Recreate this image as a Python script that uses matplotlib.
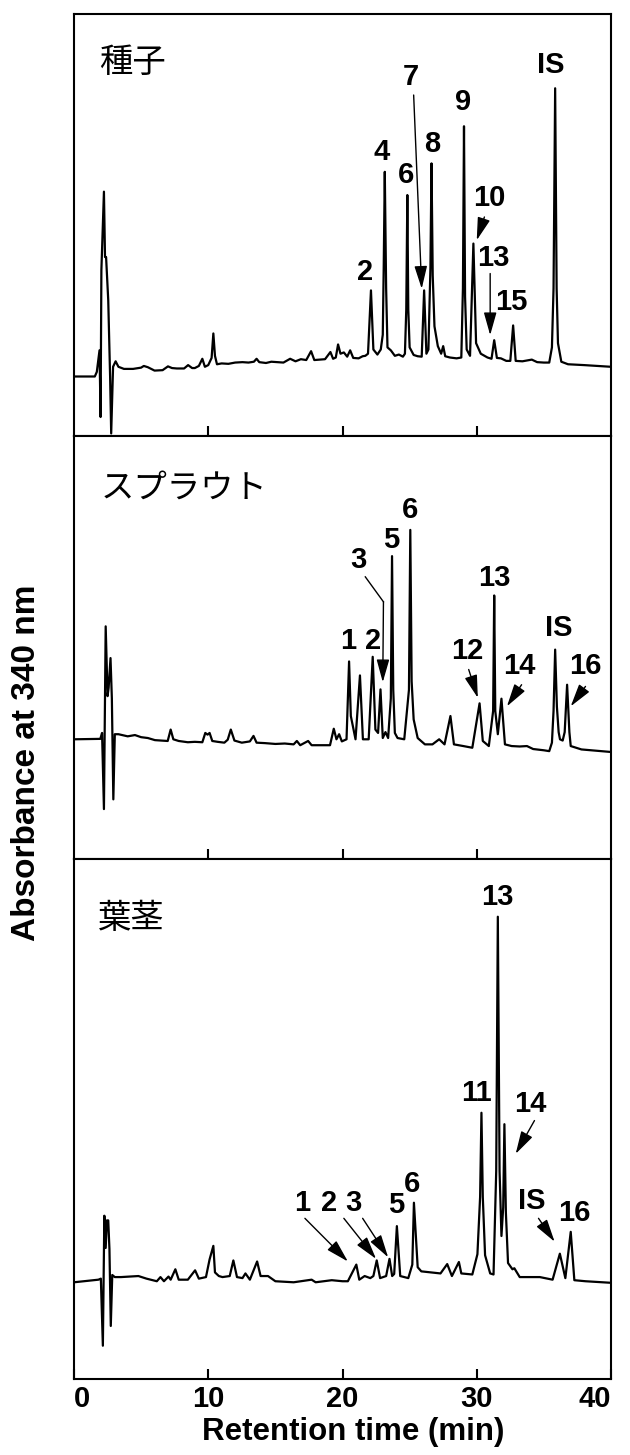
import matplotlib
matplotlib.use("Agg")
from matplotlib import pyplot as plt

# retention time (min) / absorbance (a.u., % of panel height)
seed_t = [0, 1.55, 1.70, 1.90, 1.98, 2.04, 2.23, 2.31, 2.39, 2.55, 2.69, 2.77, 2.91, 3.10, 3.31, 3.72,
          4.4, 5.0, 5.2, 5.5, 6.0, 6.6, 7.0, 7.3, 7.66, 8.2, 8.5, 8.8, 9.0, 9.3, 9.56, 9.75, 10.0, 10.25,
          10.38, 10.5, 10.65, 11.0, 11.5, 12.0, 12.55, 13.0, 13.4, 13.6, 13.8, 14.3, 14.7, 15.2, 15.6,
          16.1, 16.5, 16.9, 17.3, 17.66, 17.9, 18.3, 18.7, 19.1, 19.3, 19.5, 19.67, 19.85, 20.1, 20.35,
          20.57, 20.8, 21.2, 21.5, 21.7, 21.9, 22.12, 22.3, 22.6, 22.85, 23.0, 23.07, 23.15, 23.25, 23.35, 23.6, 23.9,
          24.2, 24.5, 24.65, 24.75, 24.83, 24.9, 25.0, 25.3, 25.6, 25.9, 26.08, 26.25, 26.4, 26.55, 26.63, 26.72, 26.85, 27.1, 27.35,
          27.5, 27.65, 28.0, 28.5, 28.85, 28.97, 29.05, 29.13, 29.25, 29.5, 29.75, 29.95, 30.3, 30.8, 31.1, 31.3, 31.5,
          31.8, 32.2, 32.5, 32.71, 32.9, 33.4, 34.1, 34.5, 35.0, 35.4, 35.6, 35.72, 35.84, 35.95, 36.05, 36.3, 36.8,
          38.0, 40.0]
seed_a = [14.1, 14.1, 15.2, 20.3, 4.5, 39.3, 57.9, 42.4, 42.4, 32.2, 14.0, 0.6, 16.4, 17.7, 16.4, 15.9,
          15.9, 16.2, 16.6, 16.3, 15.5, 15.6, 16.5, 16.1, 16.0, 16.0, 16.8, 16.1, 16.1, 16.6, 18.3, 16.4, 16.8, 18.5,
          24.3, 19.0, 17.0, 17.2, 17.1, 17.4, 17.5, 17.4, 17.6, 18.3, 17.5, 17.3, 17.6, 17.5, 17.4,
          18.3, 17.7, 18.2, 18.0, 20.1, 18.0, 18.1, 18.2, 19.9, 18.3, 18.6, 21.7, 19.5, 19.8, 18.8,
          20.3, 18.5, 18.4, 18.9, 19.0, 19.5, 34.5, 20.5, 19.3, 20.5, 24.0, 40.0, 62.6, 35.0, 21.0, 20.3, 19.0,
          19.3, 18.8, 19.5, 30.0, 57.1, 30.0, 21.0, 19.2, 18.9, 18.8, 34.5, 19.5, 20.5, 40.0, 64.6, 38.0, 26.0, 21.3, 19.5,
          21.3, 18.9, 18.6, 18.4, 18.6, 35.0, 73.4, 33.0, 20.5, 19.0, 45.6, 22.0, 19.5, 18.6, 18.3, 22.7, 18.5,
          18.4, 17.8, 17.8, 26.2, 17.8, 17.7, 18.1, 17.5, 17.4, 17.4, 21.0, 35.0, 82.4, 35.0, 22.0, 17.6, 17.0,
          16.8, 16.4]

sprout_t = [0, 1.96, 2.09, 2.23, 2.36, 2.50, 2.58, 2.72, 2.82, 2.93, 3.04, 3.31, 4.0, 4.54, 5.0, 5.5,
            6.03, 6.5, 6.98, 7.2, 7.4, 7.8, 8.48, 9.0, 9.56, 9.78, 9.95, 10.1, 10.3, 10.7, 11.2, 11.45,
            11.68, 11.95, 12.5, 13.1, 13.37, 13.6, 14.2, 15.0, 15.7, 16.36, 16.6, 16.85, 17.44, 17.7, 18.5,
            19.07, 19.35, 19.55, 19.75, 19.95, 20.3, 20.49, 20.62, 20.97, 21.3, 21.52, 21.95, 22.25, 22.45,
            22.65, 22.83, 23.0, 23.2, 23.4, 23.6, 23.69, 23.78, 23.9, 24.1, 24.6, 24.95, 25.05, 25.15, 25.3, 25.6, 26.14, 26.7, 27.2,
            27.6, 28.04, 28.3, 29.0, 29.67, 30.21, 30.45, 30.9, 31.22, 31.3, 31.38, 31.57, 31.84, 32.1, 32.6, 33.2, 33.74,
            34.2, 35.0, 35.4, 35.6, 35.72, 35.84, 35.97, 36.1, 36.2, 36.4, 36.55, 36.73, 36.9, 37.0, 37.8, 40.0]
sprout_a = [28.3, 28.4, 29.8, 11.8, 55.0, 38.5, 40.5, 47.5, 38.0, 14.1, 29.5, 29.5, 29.0, 29.3, 28.8, 28.6,
            28.1, 28.0, 27.9, 30.6, 28.3, 27.9, 27.6, 27.7, 27.6, 29.8, 29.4, 29.8, 27.9, 27.7, 27.5, 28.2,
            30.6, 28.0, 27.5, 27.8, 29.1, 27.5, 27.4, 27.2, 27.3, 27.1, 27.9, 26.9, 27.9, 26.9, 26.9,
            26.9, 30.8, 28.3, 29.5, 27.8, 28.3, 46.7, 33.8, 28.3, 43.4, 28.3, 28.3, 47.8, 30.6,
            29.8, 40.1, 28.6, 30.0, 28.6, 38.0, 71.6, 40.0, 29.8, 28.6, 28.3, 40.0, 77.8, 42.0, 33.0, 28.6, 27.1, 27.1, 28.3,
            27.1, 33.8, 27.1, 26.7, 26.3, 36.8, 27.9, 26.7, 35.0, 62.3, 35.0, 29.5, 37.9, 27.1, 26.7, 26.6, 26.7,
            26.0, 25.7, 25.5, 27.5, 35.0, 49.5, 36.0, 30.0, 28.3, 28.0, 30.0, 41.2, 30.0, 26.7, 25.9, 25.3]

leaf_t = [0, 1.82, 2.0, 2.15, 2.26, 2.36, 2.45, 2.55, 2.64, 2.74, 2.85, 3.04, 3.5, 4.8, 5.4, 6.17, 6.44,
          6.7, 7.04, 7.2, 7.55, 7.8, 8.48, 9.02, 9.3, 9.83, 10.1, 10.38, 10.5, 10.79, 11.06, 11.6, 11.87,
          12.14, 12.55, 12.77, 13.1, 13.64, 13.9, 14.45, 15.0, 16.36, 17.7, 18.0, 19.2, 20.0, 20.4, 21.03,
          21.25, 21.65, 22.07, 22.3, 22.55, 22.8, 23.25, 23.5, 23.7, 23.85, 24.05, 24.3, 24.9, 25.2, 25.32, 25.6,
          25.87, 27.3, 27.8, 28.15, 28.67, 28.85, 29.67, 30.05, 30.25, 30.35, 30.45, 30.62, 31.0, 31.25,
          31.45, 31.57, 31.7, 31.84, 31.97, 32.06, 32.17, 32.33, 32.66, 32.8, 33.2, 34.0, 34.7, 35.65,
          36.19, 36.6, 37.0, 37.27, 38.1, 40.0]
leaf_a = [18.6, 19.1, 19.3, 6.4, 31.4, 25.2, 30.5, 30.5, 25.0, 10.2, 20.0, 19.6, 19.6, 19.8, 19.3, 18.8, 19.6,
          18.8, 19.7, 19.1, 21.1, 19.1, 19.1, 20.9, 19.3, 19.6, 23.0, 25.6, 20.5, 19.8, 19.6, 19.8, 22.8,
          19.6, 19.4, 20.3, 19.1, 22.6, 19.8, 19.8, 18.8, 18.6, 19.1, 18.6, 19.0, 18.8, 18.8, 22.0,
          19.1, 19.8, 19.4, 19.8, 22.8, 19.4, 19.8, 23.1, 19.8, 20.2, 29.4, 19.8, 19.4, 22.0, 33.9, 21.5,
          20.7, 20.3, 22.1, 19.8, 22.5, 20.3, 20.1, 24.0, 35.0, 51.2, 35.0, 23.8, 20.3, 20.1,
          40.0, 88.9, 40.0, 27.5, 33.0, 49.0, 32.0, 22.3, 21.1, 21.3, 19.6, 19.6, 19.6, 19.1,
          24.1, 19.4, 28.3, 19.0, 18.8, 18.5]

panel_names = ["種子", "スプラウト", "葉茎"]
name_pos = [(1.9, 88.5), (2.0, 87.6), (1.8, 88.5)]

# peak labels: (text, time, height)
seed_labels = [("2", 21.7, 38.9), ("4", 22.9, 67.3), ("6", 24.7, 61.8), ("7", 25.1, 85.1),
               ("8", 26.7, 69.1), ("9", 29.0, 79.2), ("10", 30.9, 56.3), ("13", 31.2, 42.1),
               ("15", 32.6, 31.8), ("IS", 35.5, 87.9)]
sprout_labels = [("1", 20.4, 51.5), ("2", 22.3, 51.5), ("3", 21.2, 70.7), ("5", 23.6, 75.4),
                 ("6", 25.0, 82.5), ("12", 29.3, 49.1), ("13", 31.3, 66.4), ("14", 33.2, 45.6),
                 ("IS", 36.1, 54.6), ("16", 38.1, 45.6)]
leaf_labels = [("1", 17.0, 33.9), ("2", 19.0, 33.9), ("3", 20.8, 33.9), ("5", 24.0, 33.5),
               ("6", 25.2, 37.5), ("11", 30.0, 55.0), ("13", 31.5, 92.7), ("14", 34.0, 52.8),
               ("IS", 34.1, 34.3), ("16", 37.3, 32.0)]

# arrows: (start t, start a, tip t, tip a)
seed_arrows = [(25.3, 80.8, 25.9, 34.9), (30.57, 51.9, 30.0, 46.4), (31.0, 38.5, 31.0, 23.9)]
sprout_arrows = [(23.05, 60.8, 23.0, 41.8), (29.4, 44.8, 30.08, 38.1),
                 (33.34, 41.2, 32.25, 36.1), (38.1, 40.8, 37.0, 36.1)]
sprout_leader = ([21.7, 23.05], [66.7, 60.8])  # bent leader for peak 3
leaf_arrows = [(17.2, 30.9, 20.4, 22.6), (20.1, 30.9, 22.5, 23.1), (21.5, 30.9, 23.4, 23.4),
               (34.3, 49.7, 32.9, 43.3), (34.6, 30.9, 35.8, 26.4)]

traces = [(seed_t, seed_a), (sprout_t, sprout_a), (leaf_t, leaf_a)]
labels = [seed_labels, sprout_labels, leaf_labels]
arrows = [seed_arrows, sprout_arrows, leaf_arrows]

fig = plt.figure(figsize=(6.3, 14.55), dpi=100)
W, H = 630, 1455
left, right = 74, 611
edges = [14, 436, 859, 1379]

axs = []
for i in range(3):
    top, bot = edges[i], edges[i + 1]
    ax = fig.add_axes([left / W, 1 - bot / H, (right - left) / W, (bot - top) / H])
    axs.append(ax)
    t, a = traces[i]
    ax.plot(t, a, color="black", lw=1.6)
    ax.set_xlim(0, 40)
    ax.set_ylim(0, 100)
    ax.set_yticks([])
    for s in ax.spines.values():
        s.set_linewidth(1.5)
    ax.set_xticks([10, 20, 30])
    ax.tick_params(axis="x", direction="in", length=7, width=1.5, labelbottom=False)
    nt, na = name_pos[i]
    ax.text(nt, na, panel_names[i], family="Noto Sans CJK JP", size=24, ha="left", va="center")
    for txt, lt, la in labels[i]:
        ax.text(lt, la, txt, ha="center", va="center", family="Liberation Sans",
                weight="bold", size=21)
    for x0, y0, x1, y1 in arrows[i]:
        ax.annotate("", xy=(x1, y1), xytext=(x0, y0),
                    arrowprops=dict(arrowstyle="-|>,head_length=1.0,head_width=0.28",
                                    color="black", lw=1.0, shrinkA=0, shrinkB=0,
                                    mutation_scale=14))
axs[1].plot(sprout_leader[0], sprout_leader[1], color="black", lw=1.0)

ax = axs[2]
ax.set_xticks([0, 10, 20, 30, 40])
ax.tick_params(axis="x", labelbottom=True, pad=4)
ticklabels = ax.set_xticklabels(["0", "10", "20", "30", "40"], family="Liberation Sans",
                                weight="bold", size=21)
ticklabels[0].set_ha("left")
ticklabels[-1].set_ha("right")

fig.text(0.56, 1 - 1432 / H, "Retention time (min)", ha="center", va="center",
         family="Liberation Sans", weight="bold", size=22.5)
fig.text(27 / W, 1 - 763 / H, "Absorbance at 340 nm", ha="center", va="center", rotation=90,
         family="Liberation Sans", weight="bold", size=24)

fig.savefig("out.png", dpi=100)
